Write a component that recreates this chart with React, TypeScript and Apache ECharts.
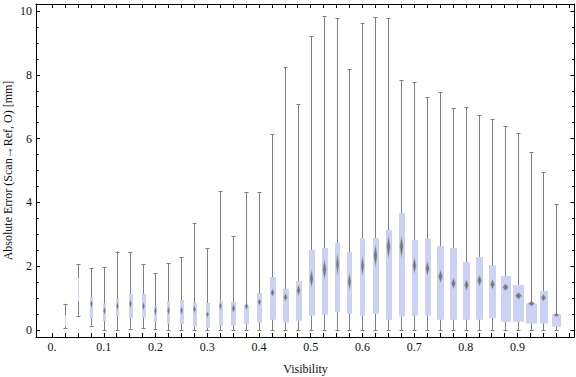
import React, { useEffect, useRef } from "react";
import * as echarts from "echarts";

const visibility = [
  0.025, 0.05, 0.075, 0.1, 0.125, 0.15, 0.175, 0.2, 0.225, 0.25, 0.275, 0.3, 0.325,
  0.35, 0.375, 0.4, 0.425, 0.45, 0.475, 0.5, 0.525, 0.55, 0.575, 0.6, 0.625, 0.65,
  0.675, 0.7, 0.725, 0.75, 0.775, 0.8, 0.825, 0.85, 0.875, 0.9, 0.925, 0.95, 0.975,
];
const whiskerLow = [
  0.05, 0.45, 0.14, 0, 0, 0.04, 0.05, 0.02, 0, 0, 0, 0, 0,
  0, 0, 0, 0, 0, 0, 0, 0, 0, 0, 0, 0, 0,
  0, 0, 0, 0, 0, 0, 0, 0, 0, 0, 0, 0, 0,
];
const quartile1 = [
  0.11, 0.89, 0.35, 0.28, 0.43, 0.36, 0.39, 0.26, 0.2, 0.19, 0.1, 0.07, 0.14,
  0.14, 0.18, 0.23, 0.32, 0.23, 0.29, 0.45, 0.48, 0.57, 0.51, 0.45, 0.51, 0.32,
  0.42, 0.45, 0.45, 0.32, 0.32, 0.32, 0.32, 0.37, 0.26, 0.26, 0.2, 0.2, 0.1,
];
const medians = [
  0.3, 1.25, 0.82, 0.6, 0.75, 0.82, 0.75, 0.6, 0.61, 0.61, 0.65, 0.49, 0.75,
  0.68, 0.75, 0.88, 1.17, 1.03, 1.24, 1.61, 1.9, 2.06, 1.52, 2.01, 2.33, 2.61,
  2.61, 2.02, 1.93, 1.68, 1.46, 1.41, 1.55, 1.43, 1.34, 1.07, 0.83, 1.01, 0.47,
];
const quartile3 = [
  0.47, 1.63, 1.03, 0.83, 0.98, 1.13, 1.13, 0.75, 0.91, 0.94, 0.85, 0.85, 0.91,
  0.88, 0.78, 1.16, 1.66, 1.29, 1.54, 2.51, 2.57, 2.73, 2.45, 2.88, 2.88, 3.13,
  3.67, 2.82, 2.85, 2.63, 2.57, 2.13, 2.29, 2.03, 1.69, 1.41, 0.83, 1.22, 0.5,
];
const whiskerHigh = [
  0.82, 2.07, 1.95, 1.98, 2.46, 2.45, 2.06, 1.78, 2.1, 2.28, 3.34, 2.56, 4.35,
  2.94, 4.32, 4.32, 6.13, 8.23, 7.07, 9.22, 9.84, 9.77, 8.17, 9.61, 9.8, 9.77,
  7.83, 7.76, 7.29, 7.46, 6.95, 6.98, 6.73, 6.6, 6.38, 6.17, 5.57, 4.94, 3.94,
];
// relative sample weight (box width)
const sampleWeight = [
  1, 1, 3, 3, 3, 4, 4, 3, 3, 4, 4, 4, 4,
  5, 5, 5, 6, 6, 6, 6, 6, 5, 5, 5, 6, 6,
  6, 6, 6, 7, 7, 7, 7, 7, 10, 11, 11, 8, 9,
];
// half-height of the median diamond (mm)
const medianSpread = [
  0.04, 0.12, 0.125, 0.12, 0.12, 0.12, 0.12, 0.15, 0.14, 0.13, 0.12, 0.1, 0.12,
  0.14, 0.12, 0.11, 0.12, 0.12, 0.17, 0.27, 0.31, 0.34, 0.27, 0.31, 0.34, 0.36,
  0.34, 0.24, 0.22, 0.2, 0.17, 0.17, 0.17, 0.16, 0.11, 0.11, 0.08, 0.11, 0.06,
];

const xTickValues = [0, ...visibility, 1.0];
const xLabelValues = [0, 0.1, 0.2, 0.3, 0.4, 0.5, 0.6, 0.7, 0.8, 0.9];
const xLabelTexts = ["0.", "0.1", "0.2", "0.3", "0.4", "0.5", "0.6", "0.7", "0.8", "0.9"];
const yMajorValues = [0, 2, 4, 6, 8, 10];
const yMinorValues = [
  0.5, 1, 1.5, 2.5, 3, 3.5, 4.5, 5, 5.5, 6.5, 7, 7.5, 8.5, 9, 9.5,
];
const xTitle = "Visibility";
const yTitle = "Absolute Error (Scan\u2192Ref, O) [mm]";

const FONT = "'Liberation Serif', 'Times New Roman', serif";
const BOX_COLOR = "#cbd2f4";
const WHISKER_COLOR = "#7f7f7f";

export default function App() {
  const ref = useRef<HTMLDivElement>(null);

  useEffect(() => {
    if (!ref.current) return;
    const chart = echarts.init(ref.current, undefined, { renderer: "svg" });

    const data = visibility.map((v, i) => [
      v,
      whiskerLow[i],
      quartile1[i],
      medians[i],
      quartile3[i],
      whiskerHigh[i],
      sampleWeight[i],
      medianSpread[i],
    ]);

    const renderItem = (params: any, api: any) => {
      const x = api.value(0);
      const pLow = api.coord([x, api.value(1)]);
      const pQ1 = api.coord([x, api.value(2)]);
      const pMed = api.coord([x, api.value(3)]);
      const pQ3 = api.coord([x, api.value(4)]);
      const pHigh = api.coord([x, api.value(5)]);
      const w = api.value(6);
      const spread = api.value(7);
      const pSpread = api.coord([x, api.value(3) + spread]);
      const hh = Math.max(1, pMed[1] - pSpread[1]);
      const cx = Math.round(pMed[0]) + 0.5;
      const lineStyle = { stroke: WHISKER_COLOR, lineWidth: 1, fill: null };
      const left = Math.round(cx - w / 2);
      const dw = Math.max(2, w * 0.55) / 2;
      return {
        type: "group",
        children: [
          { type: "line", shape: { x1: cx, y1: pLow[1], x2: cx, y2: pHigh[1] }, style: lineStyle },
          { type: "line", shape: { x1: cx - 2, y1: Math.round(pLow[1]) + 0.5, x2: cx + 2, y2: Math.round(pLow[1]) + 0.5 }, style: lineStyle },
          { type: "line", shape: { x1: cx - 2, y1: Math.round(pHigh[1]) + 0.5, x2: cx + 2, y2: Math.round(pHigh[1]) + 0.5 }, style: lineStyle },
          {
            type: "rect",
            shape: { x: left, y: pQ3[1], width: w, height: pQ1[1] - pQ3[1] },
            style: { fill: BOX_COLOR },
          },
          ...(w > 1
            ? [
                {
                  type: "polygon",
                  shape: {
                    points: [
                      [cx, pMed[1] - hh * 1.15],
                      [cx + dw * 1.3, pMed[1]],
                      [cx, pMed[1] + hh * 1.15],
                      [cx - dw * 1.3, pMed[1]],
                    ],
                  },
                  style: { fill: "rgba(125,125,135,0.35)" },
                },
                {
                  type: "polygon",
                  shape: {
                    points: [
                      [cx, pMed[1] - hh * 0.85],
                      [cx + dw * 0.85, pMed[1]],
                      [cx, pMed[1] + hh * 0.85],
                      [cx - dw * 0.85, pMed[1]],
                    ],
                  },
                  style: { fill: "#777779" },
                },
              ]
            : []),
        ],
      };
    };

    const tickStyle = { color: "#000", width: 1 };
    const labelStyle = { fontFamily: FONT, fontSize: 12, color: "#111" };

    const xBase = {
      type: "value",
      min: -0.031,
      max: 1.01,
      splitLine: { show: false },
      axisLine: { show: true, onZero: false, lineStyle: { color: "#000", width: 1 } },
      axisTick: { show: true, inside: true, length: 4, customValues: xTickValues, lineStyle: tickStyle },
    };
    const yBase = {
      type: "value",
      min: -0.22,
      max: 10.22,
      splitLine: { show: false },
      axisLine: { show: true, onZero: false, lineStyle: { color: "#000", width: 1 } },
      axisTick: { show: true, inside: true, length: 4, customValues: yMajorValues, lineStyle: tickStyle },
      axisLabel: { show: false },
    };
    const yMinor = {
      type: "value",
      min: -0.22,
      max: 10.22,
      splitLine: { show: false },
      axisLine: { show: false, onZero: false },
      axisTick: { show: true, inside: true, length: 2.5, customValues: yMinorValues, lineStyle: tickStyle },
      axisLabel: { show: false },
    };

    chart.setOption({
      animation: false,
      backgroundColor: "#fff",
      grid: { left: 36, right: 1.5, top: 4, bottom: 40, containLabel: false, outerBoundsMode: "none" },
      graphic: [
        {
          type: "text",
          x: 8,
          y: 170.5,
          rotation: Math.PI / 2,
          style: {
            text: yTitle,
            fontFamily: FONT,
            fontSize: 12,
            fill: "#111",
            align: "center",
            verticalAlign: "middle",
          },
        },
        {
          type: "text",
          x: 305.5,
          y: 369,
          style: {
            text: xTitle,
            fontFamily: FONT,
            fontSize: 12,
            fill: "#111",
            align: "center",
            verticalAlign: "middle",
          },
        },
      ],
      xAxis: [
        {
          ...xBase,
          position: "bottom",
          axisLabel: {
            ...labelStyle,
            margin: 4,
            customValues: xLabelValues,
            formatter: (v: number) => {
              const i = xLabelValues.findIndex((t) => Math.abs(t - v) < 1e-6);
              return i >= 0 ? xLabelTexts[i] : "";
            },
          },
        },
        { ...xBase, position: "top", axisLabel: { show: false } },
      ],
      yAxis: [
        {
          ...yBase,
          position: "left",
          axisLabel: { ...labelStyle, margin: 4, customValues: yMajorValues },
        },
        { ...yMinor, position: "left" },
        { ...yBase, position: "right" },
        { ...yMinor, position: "right" },
      ],
      series: [
        {
          type: "custom",
          xAxisIndex: 0,
          yAxisIndex: 0,
          renderItem,
          encode: { x: 0, y: [1, 2, 3, 4, 5] },
          data,
          clip: false,
        },
      ],
    });

    return () => chart.dispose();
  }, []);

  return (
    <div
      ref={ref}
      style={{ position: "fixed", left: 0, top: 0, width: 576, height: 377, background: "#fff" }}
    />
  );
}
